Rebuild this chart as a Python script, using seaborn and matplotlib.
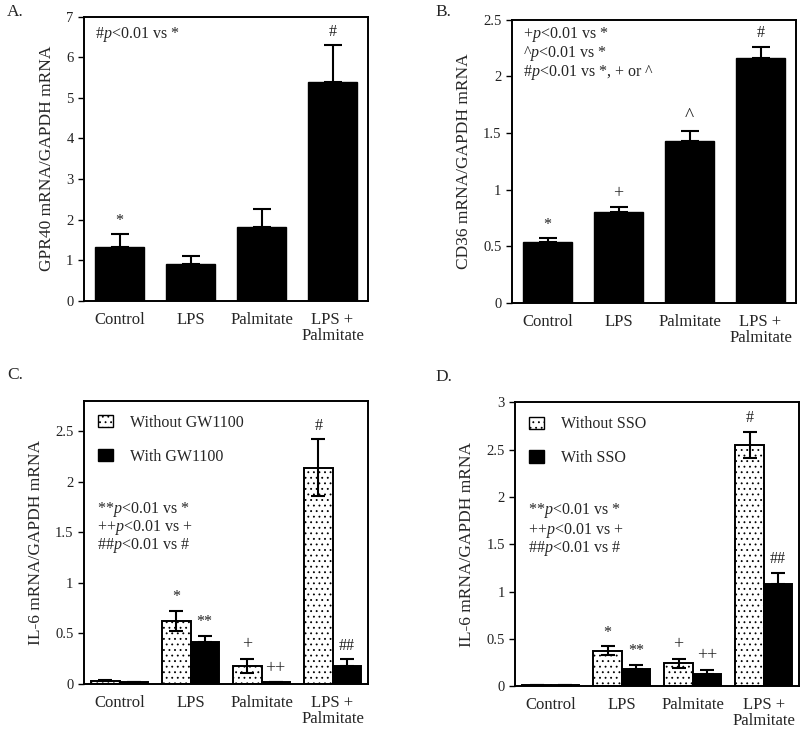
import numpy as np
import pandas as pd
import matplotlib
matplotlib.use("Agg")
import matplotlib.pyplot as plt
from matplotlib.patches import Patch
from matplotlib.ticker import FormatStrFormatter, MultipleLocator
import seaborn as sns

# ---------------- data ----------------
categories = ["Control", "LPS", "Palmitate", "LPS +\nPalmitate"]

gpr40_mean = [1.33, 0.91, 1.81, 5.40]
gpr40_err = [0.31, 0.20, 0.45, 0.90]
gpr40_marks = ["*", "", "", "#"]

cd36_mean = [0.54, 0.80, 1.43, 2.16]
cd36_err = [0.03, 0.045, 0.09, 0.10]
cd36_marks = ["*", "+", "^", "#"]

gw_without_mean = [0.03, 0.625, 0.18, 2.14]
gw_without_err = [0.005, 0.10, 0.07, 0.28]
gw_with_mean = [0.015, 0.42, 0.015, 0.18]
gw_with_err = [0.003, 0.055, 0.003, 0.065]
gw_without_marks = ["", "*", "+", "#"]
gw_with_marks = ["", "**", "++", "##"]

sso_without_mean = [0.012, 0.375, 0.24, 2.55]
sso_without_err = [0.003, 0.045, 0.05, 0.14]
sso_with_mean = [0.012, 0.18, 0.125, 1.08]
sso_with_err = [0.003, 0.048, 0.05, 0.12]
sso_without_marks = ["", "*", "+", "#"]
sso_with_marks = ["", "**", "++", "##"]

# ---------------- style ----------------
sns.set_style("ticks")
plt.rcParams["font.family"] = ["Liberation Serif", "DejaVu Serif"]
plt.rcParams["mathtext.fontset"] = "custom"
plt.rcParams["mathtext.rm"] = "Liberation Serif"
plt.rcParams["mathtext.it"] = "Liberation Serif:italic"
plt.rcParams["hatch.linewidth"] = 0.6
plt.rcParams["hatch.color"] = "black"

fig = plt.figure(figsize=(8.0, 7.3), dpi=100)
W = 0.355
axA = fig.add_axes([0.105, 0.588, W, 0.389])
axB = fig.add_axes([0.640, 0.585, W, 0.388])
axC = fig.add_axes([0.105, 0.063, W, 0.388])
axD = fig.add_axes([0.644, 0.060, W, 0.389])

TICK_FS = 12
YTICK_FS = 10.5
LABEL_FS = 12.5
NOTE_FS = 11.5
MARK_FS = {"*": 11.5, "**": 11.5, "#": 11.5, "##": 11.5,
           "+": 13, "++": 13, "^": 14}


def style_axes(ax, ylim, step, ylabel):
    ax.set_xlim(-0.5, 3.5)
    ax.set_ylim(*ylim)
    ax.yaxis.set_major_locator(MultipleLocator(step))
    ax.yaxis.set_major_formatter(FormatStrFormatter("%g"))
    ax.set_ylabel(ylabel, fontsize=LABEL_FS, labelpad=8)
    ax.set_xlabel("")
    for s in ax.spines.values():
        s.set_visible(True)
        s.set_linewidth(1.4)
        s.set_color("black")
    ax.tick_params(axis="y", labelsize=YTICK_FS, length=4, width=1.0,
                   direction="out", colors="black", labelcolor="#222222")
    ax.tick_params(axis="x", labelsize=TICK_FS, length=0, pad=8)
    ax.set_xticks(range(len(categories)))
    ax.set_xticklabels(categories, fontsize=TICK_FS, linespacing=1.0)


def add_errors(ax, container, err, symmetric, capsize):
    xs = [p.get_x() + p.get_width() / 2 for p in container]
    ys = [p.get_height() for p in container]
    lower = list(err) if symmetric else [0] * len(err)
    ax.errorbar(xs, ys, yerr=[lower, list(err)], fmt="none", ecolor="black",
                elinewidth=1.5, capsize=capsize, capthick=1.5, zorder=5)
    return xs, ys


def add_marks(ax, xs, ys, err, marks, dy=4):
    for x, y, e, m in zip(xs, ys, err, marks):
        if m:
            ax.annotate(m, (x, y + e), xytext=(0, dy), textcoords="offset points",
                        ha="center", va="bottom", fontsize=MARK_FS.get(m, 11.5),
                        color="#222222")


def single_panel(ax, mean, err, marks, ylim, step, ylabel):
    sns.barplot(x=categories, y=mean, color="black", width=0.68,
                errorbar=None, ax=ax, saturation=1, edgecolor="black", linewidth=1)
    style_axes(ax, ylim, step, ylabel)
    cont = ax.containers[0]
    xs, ys = add_errors(ax, cont, err, False, 6.5)
    add_marks(ax, xs, ys, err, marks)


def grouped_panel(ax, wo_mean, wo_err, w_mean, w_err, wo_marks, w_marks,
                  labels, ylim, step, ylabel):
    df = pd.DataFrame({
        "cond": categories * 2,
        "val": list(wo_mean) + list(w_mean),
        "grp": [labels[0]] * 4 + [labels[1]] * 4,
    })
    sns.barplot(data=df, x="cond", y="val", hue="grp", hue_order=labels,
                palette=["white", "black"], width=0.8, errorbar=None, ax=ax,
                saturation=1, edgecolor="black", linewidth=1.4, legend=False)
    c_wo, c_w = ax.containers[0], ax.containers[1]
    for p in c_wo:
        p.set_facecolor("white")
        p.set_hatch("...")
        p.set_edgecolor("black")
    style_axes(ax, ylim, step, ylabel)
    xs, ys = add_errors(ax, c_wo, wo_err, True, 5)
    add_marks(ax, xs, ys, wo_err, wo_marks)
    xs, ys = add_errors(ax, c_w, w_err, False, 5)
    add_marks(ax, xs, ys, w_err, w_marks)
    handles = [Patch(facecolor="white", edgecolor="black", hatch="...", linewidth=1.0),
               Patch(facecolor="black", edgecolor="black")]
    ax.legend(handles, labels, loc="upper left", bbox_to_anchor=(0.05, 0.95),
              frameon=False, fontsize=NOTE_FS, handlelength=0.9, handleheight=0.8,
              handletextpad=1.1, labelspacing=1.1, borderpad=0, borderaxespad=0)


single_panel(axA, gpr40_mean, gpr40_err, gpr40_marks, (0, 7), 1,
             "GPR40 mRNA/GAPDH mRNA")
single_panel(axB, cd36_mean, cd36_err, cd36_marks, (0, 2.5), 0.5,
             "CD36 mRNA/GAPDH mRNA")
grouped_panel(axC, gw_without_mean, gw_without_err, gw_with_mean, gw_with_err,
              gw_without_marks, gw_with_marks, ["Without GW1100", "With GW1100"],
              (0, 2.8), 0.5, "IL-6 mRNA/GAPDH mRNA")
grouped_panel(axD, sso_without_mean, sso_without_err, sso_with_mean, sso_with_err,
              sso_without_marks, sso_with_marks, ["Without SSO", "With SSO"],
              (0, 3), 0.5, "IL-6 mRNA/GAPDH mRNA")

P = r"$\mathit{p}$"
axA.text(0.039, 0.936, "#" + P + "<0.01 vs *", transform=axA.transAxes,
         va="center", ha="left", fontsize=NOTE_FS)
for yy, t in zip([0.947, 0.880, 0.813],
                 ["+" + P + "<0.01 vs *", "^" + P + "<0.01 vs *",
                  "#" + P + "<0.01 vs *, + or ^"]):
    axB.text(0.039, yy, t, transform=axB.transAxes, va="center", ha="left",
             fontsize=NOTE_FS)
notes_cd = ["**" + P + "<0.01 vs *", "++" + P + "<0.01 vs +", "##" + P + "<0.01 vs #"]
for yy, t in zip([0.615, 0.551, 0.488], notes_cd):
    axC.text(0.046, yy, t, transform=axC.transAxes, va="center", ha="left",
             fontsize=NOTE_FS)
for yy, t in zip([0.62, 0.549, 0.486], notes_cd):
    axD.text(0.046, yy, t, transform=axD.transAxes, va="center", ha="left",
             fontsize=NOTE_FS)

for x, y, lab in [(0.009, 0.984, "A."), (0.544, 0.984, "B."),
                  (0.009, 0.486, "C."), (0.544, 0.484, "D.")]:
    fig.text(x, y, lab, fontsize=12.5, va="center", ha="left")

fig.savefig("out.png", dpi=100)
